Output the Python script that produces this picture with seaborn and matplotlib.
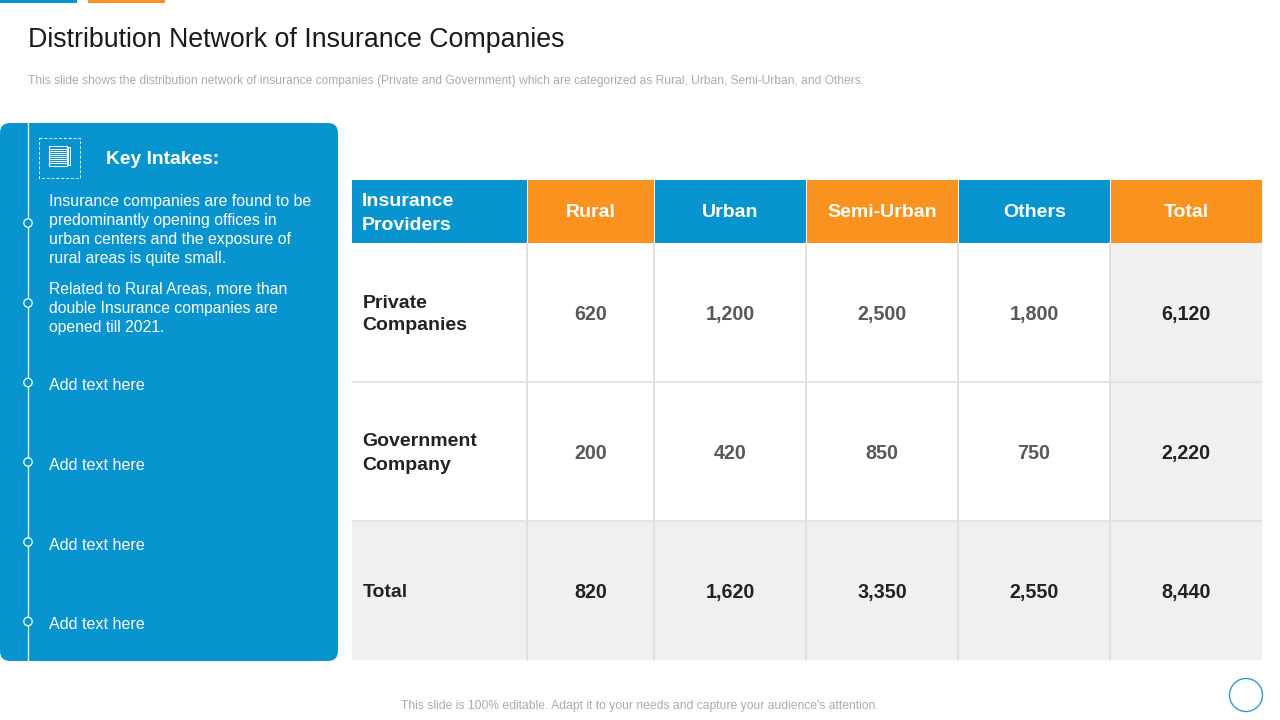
import matplotlib
matplotlib.use("Agg")
import matplotlib.pyplot as plt
from matplotlib.colors import ListedColormap
from matplotlib.patches import FancyBboxPatch, Rectangle, Circle
import numpy as np
import seaborn as sns

# ---------- data ----------
title = "Distribution Network of Insurance Companies"
subtitle = ("This slide shows the distribution network of insurance companies (Private and Government) "
            "which are categorized as Rural, Urban, Semi-Urban, and Others.")
footer = "This slide is 100% editable. Adapt it to your needs and capture your audience's attention."
panel_heading = "Key Intakes:"
intake_1 = ["Insurance companies are found to be", "predominantly opening offices in",
            "urban centers and the exposure of", "rural areas is quite small."]
intake_2 = ["Related to Rural Areas, more than", "double Insurance companies are", "opened till 2021."]
intake_rest = ["Add text here", "Add text here", "Add text here", "Add text here"]
corner_header = ["Insurance", "Providers"]
columns = ["Rural", "Urban", "Semi-Urban", "Others", "Total"]
row_labels = [["Private", "Companies"], ["Government", "Company"], ["Total"]]
rural = [620, 200, 820]
urban = [1200, 420, 1620]
semi_urban = [2500, 850, 3350]
others = [1800, 750, 2550]
total = [6120, 2220, 8440]

# ---------- style ----------
BLUE = "#0894CE"
ORANGE = "#F9921E"
GREY = "#F0F0F0"
LINE = "#E0E0E0"
sns.set_theme(style="white")
plt.rcParams["font.family"] = ["Liberation Sans", "DejaVu Sans"]

W, H = 1280, 720
fig = plt.figure(figsize=(W / 100, H / 100), dpi=100, facecolor="white")
bg = fig.add_axes([0, 0, 1, 1])
bg.set_xlim(0, W)
bg.set_ylim(H, 0)
bg.axis("off")

# top accents
bg.add_patch(Rectangle((0, 0), 77, 3, color=BLUE, lw=0))
bg.add_patch(Rectangle((88, 0), 77, 3, color=ORANGE, lw=0))

bg.text(27.5, 40, title, fontsize=19.25, color="#1a1a1a", va="center", ha="left")
bg.text(28, 81, subtitle, fontsize=8.65, color="#ABABAB", va="center", ha="left")
bg.text(640, 706, footer, fontsize=8.7, color="#ABABAB", va="center", ha="center")
bg.add_patch(Circle((1246, 695), 16.5, fc="white", ec="#2E9BD0", lw=1))

# left panel
bg.add_patch(FancyBboxPatch((0, 123), 338, 538, boxstyle="round,pad=0,rounding_size=10", fc=BLUE, ec=BLUE,
                            lw=0, zorder=1))
bg.plot([28, 28], [123, 661], color="white", lw=0.9, zorder=2)
for cy in [223, 303, 382.5, 462, 542, 621.5]:
    bg.add_patch(Circle((28, cy), 4.2, fc=BLUE, ec="white", lw=0.9, zorder=3))

# icon
bg.add_patch(Rectangle((39, 137.5), 40.5, 40, fc="none", ec="white", lw=0.7, ls=(0, (3, 2)), zorder=3))
bg.add_patch(Rectangle((48.5, 146), 18.5, 20, fc="none", ec="white", lw=0.8, zorder=3))
for yy in np.arange(149, 165, 2):
    bg.plot([50, 65.5], [yy, yy], color="white", lw=0.7, zorder=3)
bg.add_patch(Rectangle((67.5, 147), 2.5, 18, fc="none", ec="white", lw=0.7, zorder=3))

bg.text(106, 160, panel_heading, fontsize=13.85, fontweight="bold", color="white", va="center", zorder=4)
for i, line in enumerate(intake_1):
    bg.text(49, 201.5 + i * 19, line, fontsize=11.4, color="white", va="center", zorder=4)
for i, line in enumerate(intake_2):
    bg.text(49, 289.5 + i * 19, line, fontsize=11.3, color="white", va="center", zorder=4)
for cy, line in zip([385.5, 465.5, 545.5, 624.5], intake_rest):
    bg.text(49, cy, line, fontsize=11.6, color="white", va="center", zorder=4)

# table header and label column
col_edges = [352, 527, 654, 806, 958, 1110, 1262]
row_edges = [243, 382, 521, 660]
header_top = 180
bg.add_patch(Rectangle((col_edges[0], header_top), col_edges[1] - col_edges[0], row_edges[0] - header_top,
                       color=BLUE, lw=0))
for i, name in enumerate(columns):
    color = ORANGE if i in (0, 2, 4) else BLUE
    bg.add_patch(Rectangle((col_edges[i + 1] + 1, header_top), col_edges[i + 2] - col_edges[i + 1] - 1,
                           row_edges[0] - header_top, color=color, lw=0))
    bg.text((col_edges[i + 1] + col_edges[i + 2]) / 2 + 0.5, 212.5, name, fontsize=14, fontweight="bold",
            color="white", ha="center", va="center")
for i, line in enumerate(corner_header):
    bg.text(362, 202 + i * 23, line, fontsize=14, fontweight="bold", color="white", va="center")

bg.add_patch(Rectangle((col_edges[0], row_edges[2]), col_edges[1] - col_edges[0], row_edges[3] - row_edges[2],
                       color=GREY, lw=0))
for j in (1, 2):
    bg.plot([col_edges[0], col_edges[1]], [row_edges[j], row_edges[j]], color=LINE, lw=1.2)
for lines, top, bottom in zip(row_labels, row_edges[:-1], row_edges[1:]):
    cy = (top + bottom) / 2
    for i, line in enumerate(lines):
        y = cy + (i - (len(lines) - 1) / 2) * 23
        bg.text(362.5, y + 2, line, fontsize=14, fontweight="bold", color="#222222", va="center")

# numeric body: one heatmap per column so each keeps its own width
shade_cmap = ListedColormap(["white", GREY])
series = [rural, urban, semi_urban, others, total]
for c, values in enumerate(series):
    vals = np.array(values).reshape(-1, 1)
    shade = np.array([[1 if (r == 2 or c == 4) else 0] for r in range(3)])
    x0, x1 = col_edges[c + 1], col_edges[c + 2]
    ax = fig.add_axes([x0 / W, 1 - row_edges[3] / H, (x1 - x0) / W, (row_edges[3] - row_edges[0]) / H])
    sns.heatmap(shade, ax=ax, cmap=shade_cmap, vmin=0, vmax=1, cbar=False, annot=vals, fmt=",d",
                annot_kws={"fontsize": 14.2, "fontweight": "bold"}, xticklabels=False, yticklabels=False)
    ax.set_xlabel("")
    ax.set_ylabel("")
    for r, txt in enumerate(ax.texts):
        emphasised = r == 2 or c == 4
        txt.set_color("#222222" if emphasised else "#595959")
        txt.set_y(txt.get_position()[1] + 0.013)
    for r in (1, 2):
        ax.axhline(r, color=LINE, lw=1.2)
    ax.axvline(0, color=LINE, lw=1.4, clip_on=False)
    for s in ax.spines.values():
        s.set_visible(False)

fig.savefig("out.png", dpi=100, facecolor="white")
